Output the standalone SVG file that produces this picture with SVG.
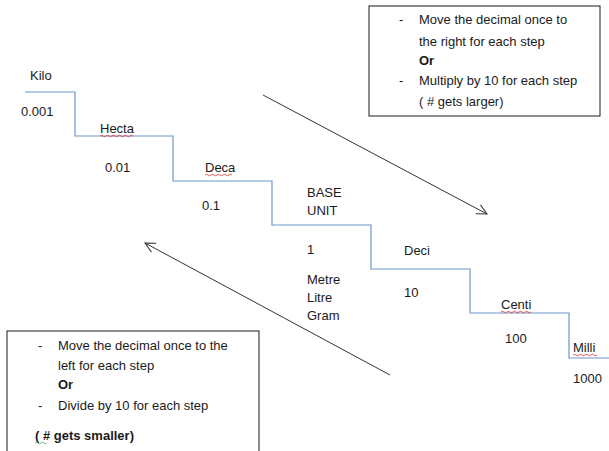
<svg xmlns="http://www.w3.org/2000/svg" width="609" height="451" viewBox="0 0 609 451">
<style>
text{font-family:"Liberation Sans",Arial,sans-serif;font-size:13px;fill:#1a1a1a}
.b{font-weight:bold}
.box{fill:#fff;stroke:#1a1a1a;stroke-width:1}
.stair{fill:none;stroke:#6f95cc;stroke-width:1.2}
.arr{fill:none;stroke:#333;stroke-width:1}
.sq{fill:none;stroke:#e03030;stroke-width:0.8}
.sqg{fill:none;stroke:#5aa05a;stroke-width:0.8}
</style>
<defs>
<marker id="ah" viewBox="0 0 12 12" refX="11" refY="6" markerWidth="12" markerHeight="12" markerUnits="userSpaceOnUse" orient="auto">
<path d="M1,1 L11,6 L1,11" fill="none" stroke="#333" stroke-width="1"/>
</marker>
</defs>
<rect width="609" height="451" fill="#fff"/>
<g id="staircase">
<path class="stair" d="M25,92 H75 V136 H173 V181 H272 V225 H371 V269 H470 V313 H569 V358 H609"/>
</g>
<g id="connectors">
<line class="arr" x1="263" y1="95" x2="487" y2="214" marker-end="url(#ah)"/>
<line class="arr" x1="390" y1="375" x2="145" y2="243" marker-end="url(#ah)"/>
</g>
<g id="box-right">
<rect class="box" x="369" y="6" width="231" height="110"/>
<text x="399" y="24">-</text><text x="419" y="24">Move the decimal once to</text>
<text x="419" y="46">the right for each step</text>
<text class="b" x="419" y="65">Or</text>
<text x="399" y="85">-</text><text x="419" y="85">Multiply by 10 for each step</text>
<text x="419" y="106">( # gets larger)</text>
</g>
<g id="box-left">
<rect class="box" x="7" y="331" width="252" height="130"/>
<text x="38" y="350">-</text><text x="58" y="350">Move the decimal once to the</text>
<text x="58" y="370">left for each step</text>
<text class="b" x="58" y="389">Or</text>
<text x="38" y="410">-</text><text x="58" y="410">Divide by 10 for each step</text>
<text class="b" x="35" y="440">( # gets smaller)</text>
<path class="sqg" d="M35,443 q1.5,-1.5 3,0 t3,0 t3,0 t3,0"/>
</g>
<g id="kilo"><text x="30" y="80">Kilo</text><text x="21" y="116">0.001</text></g>
<g id="hecta"><text x="100" y="133">Hecta</text><text x="105" y="172">0.01</text>
<path class="sq" d="M100,136 q1.5,-1.5 3,0 t3,0 t3,0 t3,0 t3,0 t3,0 t3,0 t3,0 t3,0 t3,0 t3,0"/></g>
<g id="deca"><text x="205" y="172">Deca</text><text x="202" y="210">0.1</text>
<path class="sq" d="M205,175 q1.5,-1.5 3,0 t3,0 t3,0 t3,0 t3,0 t3,0 t3,0 t3,0 t3,0"/></g>
<g id="base"><text x="307" y="197">BASE</text><text x="307" y="215">UNIT</text><text x="307" y="254">1</text>
<text x="307" y="284">Metre</text><text x="307" y="302">Litre</text><text x="307" y="320">Gram</text></g>
<g id="deci"><text x="404" y="255">Deci</text><text x="404" y="297">10</text></g>
<g id="centi"><text x="501" y="309">Centi</text><text x="505" y="343">100</text>
<path class="sq" d="M501,312 q1.5,-1.5 3,0 t3,0 t3,0 t3,0 t3,0 t3,0 t3,0 t3,0 t3,0 t3,0"/></g>
<g id="milli"><text x="573" y="352">Milli</text><text x="573" y="383">1000</text>
<path class="sq" d="M573,355 q1.5,-1.5 3,0 t3,0 t3,0 t3,0 t3,0 t3,0 t3,0 t3,0"/></g>
</svg>
